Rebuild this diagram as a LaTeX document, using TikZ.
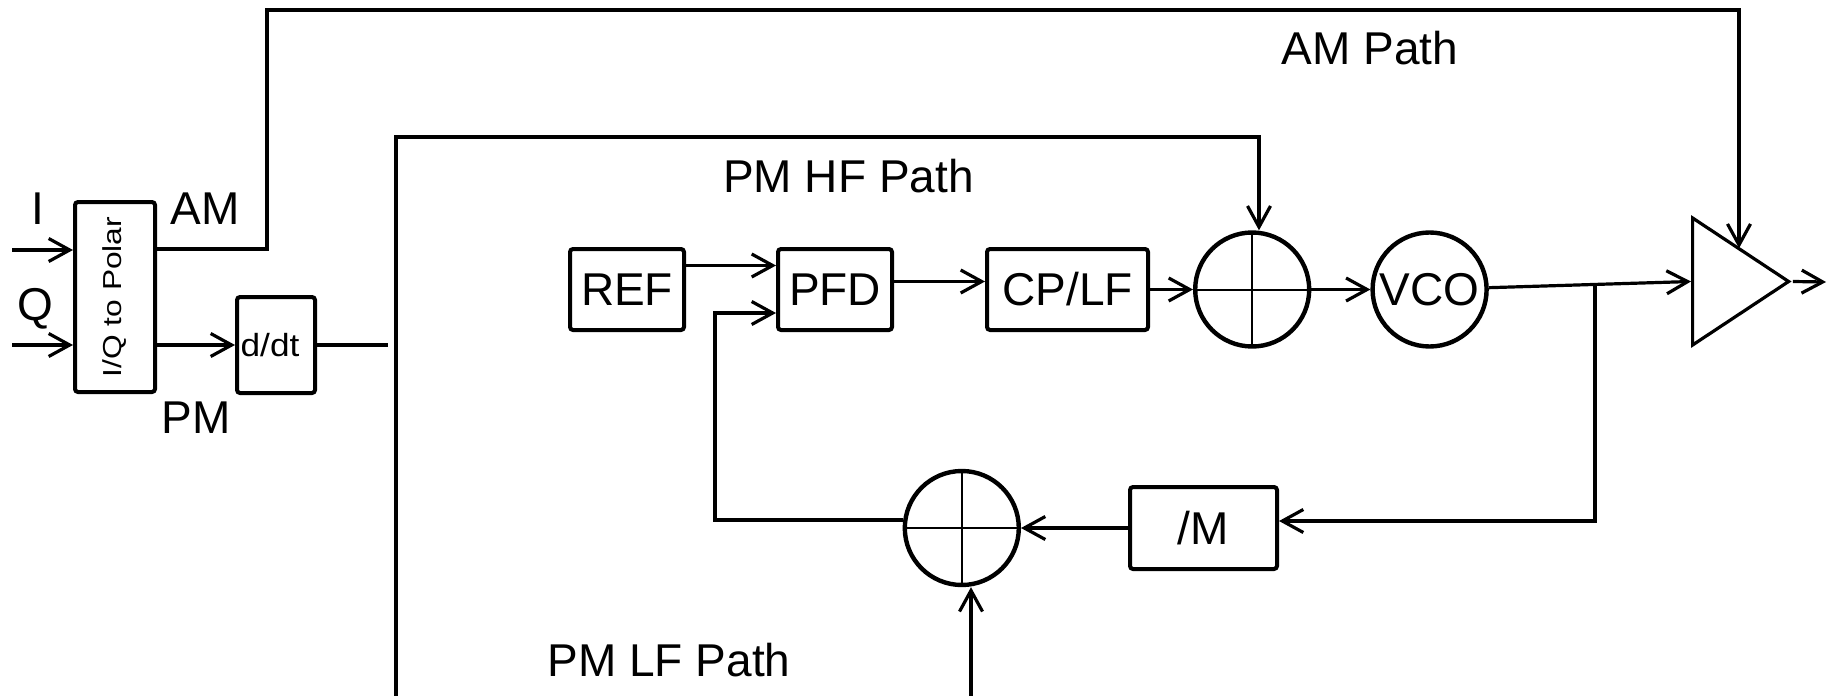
\documentclass[tikz,border=0pt]{standalone}
\usepackage{graphicx}
\usepackage{fontspec}
\setmainfont{Liberation Sans}
\usetikzlibrary{arrows.meta,positioning,shapes.geometric}

\begin{document}
\begin{tikzpicture}[
x=0.5pt, y=-0.5pt,
node distance=45pt,
box/.style={draw, rectangle, rounded corners=1.5pt, line width=2pt, minimum height=40.5pt, inner sep=0pt, font=\fontsize{23pt}{27pt}\selectfont},
sumnode/.style={draw, circle, line width=2.2pt, minimum size=57pt, inner sep=0pt,
  path picture={\draw[line width=1pt] (path picture bounding box.north) -- (path picture bounding box.south)
    (path picture bounding box.west) -- (path picture bounding box.east);}},
osc/.style={draw, circle, line width=2.2pt, minimum size=57pt, inner sep=0pt, font=\fontsize{23pt}{27pt}\selectfont},
ampnode/.style={draw, isosceles triangle, isosceles triangle stretches, line width=1.6pt, minimum width=63.5pt, minimum height=48pt, inner sep=0pt},
lbl/.style={inner sep=0pt, font=\fontsize{23pt}{27pt}\selectfont},
line/.style={line width=1.6pt},
arrow/.style={-{Straight Barb[length=10.5pt, width=11.5pt]}, line width=1.6pt}
]
\useasboundingbox (0,0) rectangle (1827,696);

\node[box, minimum width=40pt, minimum height=95pt] (iq) at (115,297) {\rotatebox{90}{\fontsize{13pt}{15pt}\selectfont\scalebox{1.22}[1]{I/Q to Polar}}};
\node[box, minimum width=39pt, minimum height=48pt, font=\fontsize{16pt}{19pt}\selectfont] (ddt) at (276,345) {\hspace*{-6pt}\scalebox{1.1}[1]{d/dt}};

\node[box, minimum width=57pt] (ref) at (627,289.5) {REF};
\node[box, minimum width=57pt, right=45pt of ref] (pfd) {PFD};
\node[box, minimum width=80.5pt, right=45.5pt of pfd] (cplf) {CP/LF};
\node[sumnode, right=21.5pt of cplf] (sum1) {};
\node[osc, right=29.5pt of sum1] (vco) {VCO};
\node[ampnode, anchor=west] (amp) at (1691,281.5) {};
\node[box, minimum width=73.5pt, minimum height=41pt] (divm) at (1203.5,528) {/M};
\node[sumnode, left=53.5pt of divm] (sum2) {};

\node[lbl] (ilbl) at (37.5,209) {I};
\node[lbl] (qlbl) at (35.5,309) {Q};
\node[lbl] (amlbl) at (205,209) {AM};
\node[lbl] (pmlbl) at (196,418) {PM};
\node[lbl] (ampath) at (1370,48.5) {AM Path};
\node[lbl] (hfpath) at (848.5,176) {PM HF Path};
\node[lbl] (lfpath) at (669,660) {PM LF Path};

\coordinate (iin) at (12,250);
\coordinate (qin) at (12,345);
\coordinate (amleft) at (267,10);
\coordinate (amright) at (1739,10);
\coordinate (pmend) at (388,345);
\coordinate (pmbot) at (396,696);
\coordinate (hftop) at (1259,137);
\coordinate (tap) at (1595,283);
\coordinate (fbx) at (715,313);
\coordinate (lfbot) at (971,696);
\coordinate (outp) at (1826,282);

\draw[arrow] (iin) -- (iin -| iq.west);
\draw[arrow] (qin) -- (qin -| iq.west);
\draw[arrow] ([yshift=24pt]iq.east) -| (amleft) -- (amright) -- (amright |- amp.left side);
\draw[arrow] ([yshift=-24pt]iq.east) -- (ddt);
\draw[line] (ddt) -- (pmend);
\draw[arrow] (pmbot) |- (hftop) -- (hftop |- sum1.north);
\draw[arrow] ([yshift=12pt]ref.east) -- ([yshift=12pt]pfd.west);
\draw[arrow] ([yshift=4pt]pfd.east) -- ([yshift=4pt]cplf.west);
\draw[arrow] (cplf) -- (sum1);
\draw[arrow] (sum1) -- (vco);
\draw[arrow] (vco) -- (amp.west);
\draw[arrow] (amp.apex) -- (outp);
\draw[arrow] (tap) |- ([yshift=3.5pt]divm.east);
\draw[arrow] (divm) -- (sum2);
\draw[arrow] ([yshift=4pt]sum2.west) -| (fbx) -- ([yshift=-11.75pt]pfd.west);
\draw[arrow] (lfbot) -- (lfbot |- sum2.south);

\end{tikzpicture}
\end{document}
